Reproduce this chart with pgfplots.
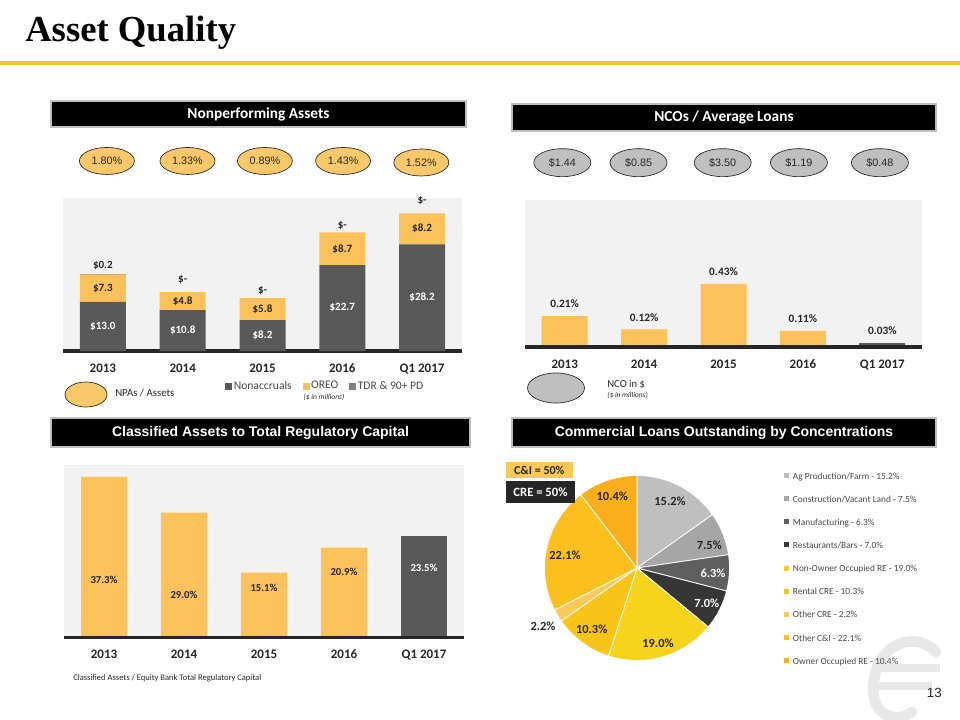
\documentclass[border=0pt]{standalone}
\usepackage{pgfplots}
\pgfplotsset{compat=1.18}
\usepackage{fontspec}
\setmainfont{Carlito}
\newfontfamily\arial{Liberation Sans}
\newfontfamily\tnr{Liberation Serif}
\usetikzlibrary{shapes.geometric}

\definecolor{gold}{HTML}{F5C518}
\definecolor{barY}{HTML}{FBC25C}
\definecolor{ovalY}{HTML}{F9C86A}
\definecolor{darkB}{HTML}{595959}
\definecolor{tdrG}{HTML}{7F7F7F}
\definecolor{bgG}{HTML}{F2F2F2}
\definecolor{ovalG}{HTML}{BFBFBF}
\definecolor{txt}{HTML}{262626}
\definecolor{pAg}{HTML}{BFBFBF}
\definecolor{pCon}{HTML}{A6A6A6}
\definecolor{pMan}{HTML}{5F5F5F}
\definecolor{pRes}{HTML}{363636}
\definecolor{pNon}{HTML}{F6D31C}
\definecolor{pRen}{HTML}{F9C31A}
\definecolor{pOCRE}{HTML}{FBC85A}
\definecolor{pOCI}{HTML}{FCC01E}
\definecolor{pOwn}{HTML}{F9AE1C}

\newcommand\fs[1]{\fontsize{#1}{#1}\selectfont}

\pgfplotsset{
  panel/.style={scale only axis, xmin=-0.5, xmax=4.5, ymin=0,
    axis line style={draw=none}, ytick=\empty, major tick length=0pt,
    anchor=south west, clip=false},
  bars/.style={panel, axis background/.style={fill=bgG},
    xtick={0,...,4}, xticklabels={2013,2014,2015,2016,Q1 2017},
    xticklabel style={font=\bfseries\fs{9.75pt}, text=txt, yshift=-6pt, text height=6.6pt, text depth=0pt}},
  labs/.style={panel, xtick=\empty},
  lab/.style={draw=none, mark=none, forget plot, point meta=explicit symbolic,
    nodes near coords={#1},
    every node near coord/.append style={anchor=center, font=\bfseries\fs{8.3pt}, text=txt}},
  oval/.style={every node near coord/.append style={shape=ellipse, draw=txt, line width=0.5pt,
    inner sep=0pt, font=\arial\fs{8.1pt}, text=txt}},
}

\begin{document}
\begin{tikzpicture}
\path[use as bounding box] (0pt,0pt) rectangle (720pt,-540pt);

% watermark logo (behind everything), drawn as a light shape
\begin{scope}[x=0.75pt, y=-0.75pt]
\draw[black!9, line width=8pt, line cap=round]
  (936,652) .. controls (918,632) and (880,640) .. (874,680)
  .. controls (868,716) and (896,724) .. (912,712);
\draw[black!9, line width=5.5pt] (880,668) -- (940,668);
\draw[black!9, line width=5.5pt] (874,686) -- (932,686);
\end{scope}

% ---------------- Nonperforming assets ----------------
\begin{axis}[bars, at={(47.25pt,-263.25pt)}, width=299.25pt, height=114.75pt, ymax=40.5,
  ybar stacked, bar width=34.5pt,
  legend columns=3,
  legend style={at={(0.406,-0.229)}, anchor=west, draw=none, fill=none,
    font=\fs{8.7pt}, text=txt!85, inner sep=0pt, nodes={inner sep=1.2pt},
    /tikz/every even column/.append style={column sep=7pt}},
  legend image code/.code={\fill[#1] (0pt,-2.6pt) rectangle (5.2pt,2.6pt);}]
\addplot[fill=darkB, draw=none] coordinates {(0,13.0) (1,10.8) (2,8.2) (3,22.7) (4,28.2)};
\addplot[fill=barY, draw=none] coordinates {(0,7.3) (1,4.8) (2,5.8) (3,8.7) (4,8.2)};
\addplot[fill=tdrG, draw=none] coordinates {(0,0.2) (1,0) (2,0) (3,0) (4,0)};
\legend{Nonaccruals, OREO, TDR \& 90+ PD}
\draw[txt, line width=2.7pt] (rel axis cs:0,0) -- (rel axis cs:1,0);
\end{axis}
\begin{axis}[labs, at={(47.25pt,-263.25pt)}, width=299.25pt, height=114.75pt, ymax=40.5]
\addplot[lab={\$\pgfplotspointmeta}, every node near coord/.append style={text=white}]
  coordinates {(0,6.5) [13.0] (1,5.4) [10.8] (2,4.1) [8.2] (3,11.4) [22.7] (4,14.2) [28.2]};
\addplot[lab={\$\pgfplotspointmeta}]
  coordinates {(0,16.65) [7.3] (1,13.2) [4.8] (2,11.1) [5.8] (3,27.05) [8.7] (4,32.4) [8.2]};
\addplot[lab={\$\pgfplotspointmeta}]
  coordinates {(0,22.7) [0.2] (1,19.0) [-] (2,15.95) [-] (3,33.3) [-] (4,39.7) [-]};
\addplot[lab={\pgfplotspointmeta\%}, oval,
  every node near coord/.append style={fill=ovalY, minimum width=41.25pt, minimum height=20.25pt}]
  coordinates {(0.05,50.3) [1.80] (1.06,50.3) [1.33] (2.03,50.3) [0.89] (3.01,50.3) [1.43] (3.99,49.9) [1.52]};
\end{axis}

% ---------------- NCOs / Average loans ----------------
\begin{axis}[bars, at={(393.75pt,-260.25pt)}, width=297.75pt, height=110.25pt, ymax=1.0, bar width=34.5pt]
\addplot[ybar, bar shift=0pt, fill=barY, draw=none, point meta=explicit symbolic,
  nodes near coords={\pgfplotspointmeta\%},
  every node near coord/.append style={font=\bfseries\fs{8.5pt}, text=txt, yshift=2.5pt}]
  coordinates {(0,0.21) [0.21] (1,0.12) [0.12] (2,0.43) [0.43] (3,0.11) [0.11]};
\addplot[ybar, bar shift=0pt, fill=darkB, draw=none, point meta=explicit symbolic,
  nodes near coords={\pgfplotspointmeta\%},
  every node near coord/.append style={font=\bfseries\fs{8.5pt}, text=txt, yshift=2.5pt}]
  coordinates {(4,0.03) [0.03]};
\addplot[lab={\$\pgfplotspointmeta}, oval,
  every node near coord/.append style={fill=ovalG, minimum width=42.75pt, minimum height=21pt}]
  coordinates {(-0.03,1.254) [1.44] (0.93,1.254) [0.85] (1.99,1.254) [3.50] (2.95,1.254) [1.19] (3.97,1.254) [0.48]};
\draw[txt, line width=2.7pt] (rel axis cs:0,0) -- (rel axis cs:1,0);
\end{axis}

% ---------------- Classified assets ----------------
\begin{axis}[bars, at={(48pt,-478.1pt)}, width=300pt, height=129.4pt, ymax=40.1, bar width=34.5pt]
\addplot[ybar, bar shift=0pt, fill=barY, draw=none] coordinates {(0,37.3) (1,29.0) (2,15.1) (3,20.9)};
\addplot[ybar, bar shift=0pt, fill=darkB, draw=none] coordinates {(4,23.5)};
\addplot[lab={\pgfplotspointmeta\%}, every node near coord/.append style={font=\bfseries\fs{8pt}}]
  coordinates {(0,13.5) [37.3] (1,10.0) [29.0] (2,11.5) [15.1] (3,15.3) [20.9]};
\addplot[lab={\pgfplotspointmeta\%}, every node near coord/.append style={font=\bfseries\fs{8pt}, text=white}]
  coordinates {(4,16.1) [23.5]};
\draw[txt, line width=2.7pt] (rel axis cs:0,0) -- (rel axis cs:1,0);
\end{axis}

% ---------------- Pie ----------------
\begin{axis}[scale only axis, width=138.75pt, height=138.75pt, at={(477.75pt,-426pt)}, anchor=center,
  xmin=-1, xmax=1, ymin=-1, ymax=1, hide axis, clip=false,
  legend style={at={(1.289,1.02)}, anchor=north west, draw=none, fill=none, inner sep=0pt,
    font=\fs{7pt}, text=txt!85, row sep=10.6pt, cells={anchor=west},
    nodes={inner sep=0pt, text height=5pt, text depth=1.5pt},
    /tikz/every odd column/.append style={column sep=2.2pt}},
  legend image code/.code={\fill[#1] (0pt,-1.3pt) rectangle (4.5pt,3.2pt);}]
\addplot[fill=pAg,   draw=white, line width=0.6pt, domain=0:54.72,      samples=40] ({sin(x)},{cos(x)}) -- (axis cs:0,0) -- cycle;
\addplot[fill=pCon,  draw=white, line width=0.6pt, domain=54.72:81.72,  samples=30] ({sin(x)},{cos(x)}) -- (axis cs:0,0) -- cycle;
\addplot[fill=pMan,  draw=white, line width=0.6pt, domain=81.72:104.4,  samples=30] ({sin(x)},{cos(x)}) -- (axis cs:0,0) -- cycle;
\addplot[fill=pRes,  draw=white, line width=0.6pt, domain=104.4:129.6,  samples=30] ({sin(x)},{cos(x)}) -- (axis cs:0,0) -- cycle;
\addplot[fill=pNon,  draw=white, line width=0.6pt, domain=129.6:198,    samples=50] ({sin(x)},{cos(x)}) -- (axis cs:0,0) -- cycle;
\addplot[fill=pRen,  draw=white, line width=0.6pt, domain=198:235.08,   samples=30] ({sin(x)},{cos(x)}) -- (axis cs:0,0) -- cycle;
\addplot[fill=pOCRE, draw=white, line width=0.6pt, domain=235.08:243,   samples=10] ({sin(x)},{cos(x)}) -- (axis cs:0,0) -- cycle;
\addplot[fill=pOCI,  draw=white, line width=0.6pt, domain=243:322.56,   samples=50] ({sin(x)},{cos(x)}) -- (axis cs:0,0) -- cycle;
\addplot[fill=pOwn,  draw=white, line width=0.6pt, domain=322.56:360,   samples=30] ({sin(x)},{cos(x)}) -- (axis cs:0,0) -- cycle;
\legend{Ag Production/Farm - 15.2\%, Construction/Vacant Land - 7.5\%, Manufacturing - 6.3\%,
  Restaurants/Bars - 7.0\%, Non-Owner Occupied RE - 19.0\%, Rental CRE - 10.3\%,
  Other CRE - 2.2\%, Other C\&I - 22.1\%, Owner Occupied RE - 10.4\%}
\addplot[lab={\pgfplotspointmeta\%}, every node near coord/.append style={font=\bfseries\fs{9.3pt}}]
  coordinates {(0.357,0.717) [15.2] (0.782,0.249) [7.5] (0.227,-0.811) [19.0] (-0.49,-0.659) [10.3]
    (-1.016,-0.627) [2.2] (-0.778,0.141) [22.1] (-0.267,0.771) [10.4]};
\addplot[lab={\pgfplotspointmeta\%}, every node near coord/.append style={font=\bfseries\fs{9.3pt}, text=white}]
  coordinates {(0.822,-0.054) [6.3] (0.754,-0.382) [7.0]};
\end{axis}

% ---------------- decorations (pixel coordinates) ----------------
\begin{scope}[x=0.75pt, y=-0.75pt]
\node[anchor=base west, inner sep=0pt, font=\tnr\bfseries\fs{27.5pt}, text=black] at (25,42) {Asset Quality};
\fill[gold] (0,61.5) rectangle (960,65);

\draw[fill=black, draw=black!25, line width=1.3pt] (51,101) rectangle (466,127);
\node[text=white, font=\bfseries\fs{11.5pt}] at (258.5,114) {Nonperforming Assets};
\draw[fill=black, draw=black!25, line width=1.3pt] (512,104) rectangle (936,131);
\node[text=white, font=\bfseries\fs{11.5pt}] at (724,117.5) {NCOs / Average Loans};
\draw[fill=black, draw=black!25, line width=1.3pt] (51,418) rectangle (470,447);
\node[text=white, font=\arial\bfseries\fs{10.5pt}] at (260.5,432.5) {Classified Assets to Total Regulatory Capital};
\draw[fill=black, draw=black!25, line width=1.3pt] (512,418) rectangle (936,447);
\node[text=white, font=\arial\bfseries\fs{10.5pt}] at (724,432.5) {Commercial Loans Outstanding by Concentrations};

\node[ellipse, fill=ovalY, draw=txt, line width=0.5pt, minimum width=31.5pt, minimum height=18.75pt, inner sep=0pt] at (86,394.5) {};
\node[anchor=west, inner sep=0pt, font=\fs{8.1pt}, text=txt] at (115,393) {NPAs / Assets};
\node[inner sep=0pt, font=\itshape\fs{5.6pt}, text=txt] at (324,397.5) {(\$ in millions)};

\node[ellipse, fill=ovalG, draw=txt, line width=0.5pt, minimum width=42.75pt, minimum height=22.5pt, inner sep=0pt] at (556,388) {};
\node[anchor=west, inner sep=0pt, font=\fs{8pt}, text=txt] at (607,384.5) {NCO in \$};
\node[anchor=west, inner sep=0pt, font=\itshape\fs{5.6pt}, text=txt] at (607,395.5) {(\$ in millions)};

\node[anchor=west, inner sep=0pt, font=\fs{6.4pt}, text=txt] at (73,678) {Classified Assets / Equity Bank Total Regulatory Capital};

\fill[pOCRE] (506,461.7) rectangle (572.7,478.3);
\node[font=\bfseries\fs{9pt}, text=txt] at (539.3,470) {C\&I = 50\%};
\fill[txt] (506,480.7) rectangle (575,503.3);
\node[font=\bfseries\fs{9.5pt}, text=white] at (540.5,492) {CRE = 50\%};

\node[anchor=base east, inner sep=0pt, font=\arial\fs{10pt}, text=txt] at (942,697) {13};
\end{scope}
\end{tikzpicture}
\end{document}
